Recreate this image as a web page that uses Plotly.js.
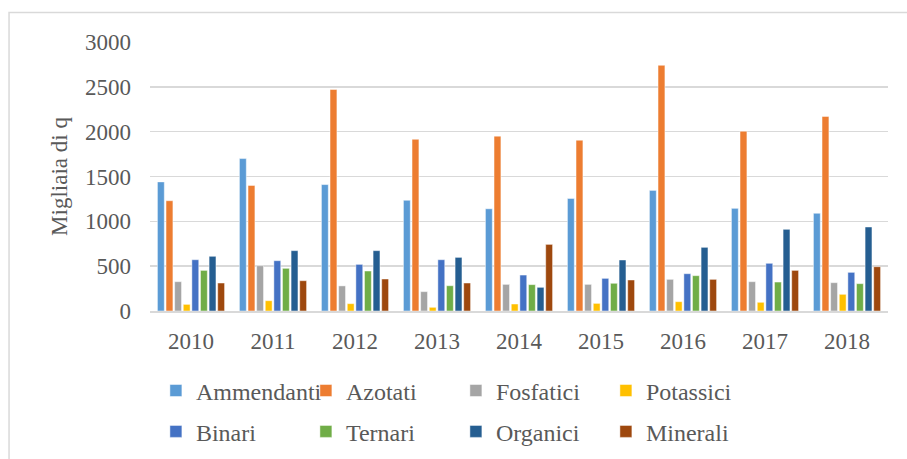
<!DOCTYPE html>
<html>
<head>
<meta charset="utf-8">
<script src="https://cdn.plot.ly/plotly-3.0.1.min.js"></script>
<style>html,body{margin:0;padding:0;background:#fff;}#chart{width:907px;height:459px;}</style>
</head>
<body>
<div id="chart"></div>
<script>
const years = ["2010","2011","2012","2013","2014","2015","2016","2017","2018"];
const ammendanti = [1440,1700,1410,1235,1140,1255,1345,1145,1090];
const azotati    = [1230,1400,2470,1915,1950,1905,2740,2005,2170];
const fosfatici  = [327,505,280,216,297,297,353,327,316];
const potassici  = [74,115,82,41,78,85,104,97,186];
const binari     = [572,561,520,572,401,364,416,532,431];
const ternari    = [453,476,446,282,294,309,394,323,305];
const organici   = [610,673,673,598,264,569,710,911,937];
const minerali   = [312,338,357,312,743,346,353,453,494];

const seriesNames = ["Ammendanti","Azotati","Fosfatici","Potassici","Binari","Ternari","Organici","Minerali"];
const seriesData = [ammendanti,azotati,fosfatici,potassici,binari,ternari,organici,minerali];
const colors = ["#5B9BD5","#ED7D31","#A5A5A5","#FFC000","#4472C4","#70AD47","#255E91","#9E480E"];

const FAM = "'Liberation Serif', 'Times New Roman', serif";
const mk = (s)=>({family:FAM, size:s, color:"#595959"});

const traces = seriesNames.map((n,i)=>({
  type:"bar", name:n, x:years, y:seriesData[i],
  marker:{color:colors[i], line:{color:"rgba(255,255,255,0.6)", width:0.8}},
  legend: i<4 ? "legend" : "legend2",
  hoverinfo:"skip"
}));

const legendCommon = {
  orientation:"h", xanchor:"left", yanchor:"middle",
  font:mk(24),
  entrywidth:105, entrywidthmode:"pixels",
  bgcolor:"rgba(0,0,0,0)", traceorder:"normal", itemclick:false
};

const layout = {
  width:907, height:459,
  margin:{l:150, r:19, t:42, b:148, autoexpand:false},
  paper_bgcolor:"#fff", plot_bgcolor:"#fff",
  font:mk(23),
  barmode:"group", bargap:0.16, bargroupgap:0.2,
  showlegend:true,
  xaxis:{type:"category", showgrid:false, showline:true, linecolor:"#d9d9d9", linewidth:2,
         ticks:"", tickfont:mk(23), ticklabelstandoff:8},
  yaxis:{range:[0,3000], dtick:500, showgrid:true, gridcolor:"#d9d9d9", gridwidth:1.5,
         zeroline:false, showline:false, ticks:"", tickfont:mk(23),
         ticklabelstandoff:18,
         title:{text:"Migliaia di q", font:mk(23), standoff:10}},
  legend:Object.assign({x:0.008, y:-0.297}, legendCommon),
  legend2:Object.assign({x:0.008, y:-0.449}, legendCommon),
  shapes:[{type:"rect", xref:"paper", yref:"paper", x0:-0.191, x1:1.5, y0:-1, y1:1.11,
           line:{color:"#d9d9d9", width:1.5}, fillcolor:"rgba(0,0,0,0)", layer:"below"}]
};

Plotly.newPlot("chart", traces, layout, {staticPlot:true, displayModeBar:false});
</script>
</body>
</html>
